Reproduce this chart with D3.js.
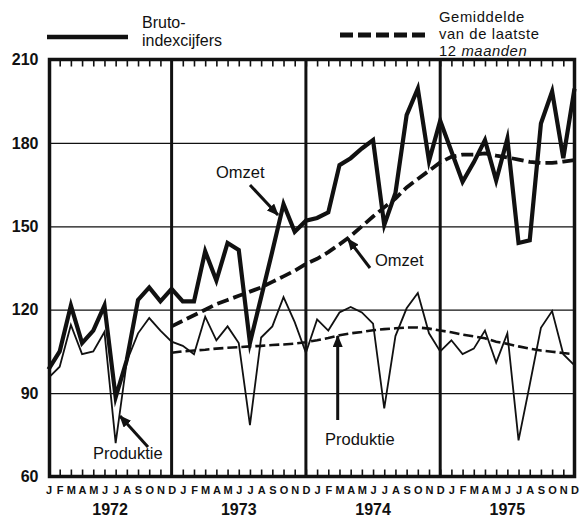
<!DOCTYPE html>
<html>
<head>
<meta charset="utf-8">
<script src="https://cdn.jsdelivr.net/npm/d3@7"></script>
<style>
  html, body { margin: 0; padding: 0; background: #fff; }
  svg { display: block; }
  text { font-family: "Liberation Sans", Arial, Helvetica, sans-serif; fill: #111; }
</style>
</head>
<body>
<svg id="chart" width="580" height="517"></svg>
<script>
// ---- data ----
const months = ["J","F","M","A","M","J","J","A","S","O","N","D"];
const years = ["1972","1973","1974","1975"];
const yTicks = [60, 90, 120, 150, 180, 210];
const gridValues = [90, 120, 150, 180];

// Omzet, bruto-indexcijfers, Jan 1972 - Dec 1975
const omzet = [
  98.5, 105, 121.5, 108, 112.5, 121.5, 88.5, 102, 123.5, 128, 123, 127.5,
  123, 123, 141, 130.5, 144, 141.5, 108, 124.5, 141, 158, 148, 152,
  153, 155, 172, 174.5, 178, 181, 150.5, 162, 190, 199.5, 173.5, 188,
  177, 166, 173, 181, 166.5, 181.5, 144, 145, 187, 198.5, 174.5, 199.5
];
// Produktie, bruto-indexcijfers
const produktie = [
  95.5, 99.5, 114.5, 104, 105, 112, 72, 101.5, 111.5, 117, 112.5, 108.5,
  107, 104, 117.5, 109, 114, 108, 78.5, 110, 114, 124.5, 115.5, 104.5,
  116.5, 112.5, 119, 121, 119, 115, 84.5, 110.5, 120.5, 126, 111.5, 105,
  109, 104, 106, 112.5, 101, 111.5, 73, 93, 113.5, 119.5, 104, 100
];
// Gemiddelde van de laatste 12 maanden (from Dec 1972)
const omzetAvg = [
  null, null, null, null, null, null, null, null, null, null, null, 114,
  116, 118, 120, 122, 123.5, 125, 126.5, 128, 130, 132, 134, 136.5,
  138.3, 140.7, 143.5, 146.5, 150, 153.5, 156.8, 160, 164, 167, 170, 173,
  175, 175.8, 175.8, 176.2, 175.4, 174.8, 174, 173.2, 172.8, 172.8, 173.3, 173.8
];
const produktieAvg = [
  null, null, null, null, null, null, null, null, null, null, null, 104.5,
  105, 105.3, 105.6, 106, 106.3, 106.5, 106.8, 107, 107.3, 107.5, 107.8, 108.3,
  109, 109.8, 110.8, 111.5, 112, 112.6, 113, 113.3, 113.6, 113.6, 113.2, 112.5,
  111.9, 111, 110.4, 109.7, 108.5, 107.7, 106.8, 106, 105.3, 104.9, 104.4, 104
];

// ---- layout ----
const svg = d3.select("#chart");
const idx = d3.range(48);
const x = d3.scaleLinear().domain([0, 47]).range([48.5, 574.5]);
const y = d3.scaleLinear().domain([60, 210]).range([476.5, 59.5]);
const pLeft = x(0), pRight = x(47), pTop = y(210), pBottom = y(60);

// gridlines
svg.append("g")
  .attr("transform", `translate(${pLeft},0)`)
  .call(d3.axisLeft(y).tickValues(gridValues).tickSize(-(pRight - pLeft)).tickFormat(""))
  .call(g => g.select(".domain").remove())
  .call(g => g.selectAll("line").attr("stroke", "#111").attr("stroke-width", 1.2));

// month ticks top & bottom (inward)
svg.append("g")
  .attr("transform", `translate(0,${pTop})`)
  .call(d3.axisTop(x).tickValues(idx).tickSize(-7).tickFormat(""))
  .call(g => g.select(".domain").remove())
  .call(g => g.selectAll("line").attr("stroke", "#111").attr("stroke-width", 1.6));
svg.append("g")
  .attr("transform", `translate(0,${pBottom})`)
  .call(d3.axisBottom(x).tickValues(idx).tickSize(-7).tickFormat(""))
  .call(g => g.select(".domain").remove())
  .call(g => g.selectAll("line").attr("stroke", "#111").attr("stroke-width", 1.6));

// year dividers
svg.append("g").selectAll("line")
  .data([11, 23, 35])
  .join("line")
  .attr("x1", d => x(d)).attr("x2", d => x(d))
  .attr("y1", pTop).attr("y2", pBottom)
  .attr("stroke", "#111").attr("stroke-width", 3);

// data lines
const line = d3.line()
  .defined(d => d != null)
  .x((d, i) => x(i))
  .y(d => y(d));

svg.append("path").datum(produktieAvg)
  .attr("d", line).attr("fill", "none")
  .attr("stroke", "#111").attr("stroke-width", 2.6)
  .attr("stroke-dasharray", "10,4");
svg.append("path").datum(omzetAvg)
  .attr("d", line).attr("fill", "none")
  .attr("stroke", "#111").attr("stroke-width", 3.8)
  .attr("stroke-dasharray", "12,5");
svg.append("path").datum(produktie)
  .attr("d", line).attr("fill", "none")
  .attr("stroke", "#111").attr("stroke-width", 1.8)
  .attr("stroke-linejoin", "miter").attr("stroke-miterlimit", 6);
svg.append("path").datum(omzet)
  .attr("d", line).attr("fill", "none")
  .attr("stroke", "#111").attr("stroke-width", 4.2)
  .attr("stroke-linejoin", "miter").attr("stroke-miterlimit", 6);

// frame
svg.append("rect")
  .attr("x", pLeft + 1).attr("y", pTop)
  .attr("width", pRight - pLeft - 1).attr("height", pBottom - pTop)
  .attr("fill", "none").attr("stroke", "#111").attr("stroke-width", 3.5);

// y axis labels
svg.append("g")
  .attr("transform", `translate(${pLeft - 1},0)`)
  .call(d3.axisLeft(y).tickValues(yTicks).tickSize(0).tickPadding(9))
  .call(g => g.select(".domain").remove())
  .call(g => g.selectAll("text")
    .attr("font-family", "'Liberation Sans', Arial, sans-serif")
    .attr("font-size", 16).attr("font-weight", "bold").attr("fill", "#111"));

// month labels
svg.append("g")
  .attr("transform", `translate(0,${pBottom})`)
  .call(d3.axisBottom(x).tickValues(idx).tickSize(0).tickPadding(10)
    .tickFormat(i => months[i % 12]))
  .call(g => g.select(".domain").remove())
  .call(g => g.selectAll("text")
    .attr("font-family", "'DejaVu Sans Condensed', 'DejaVu Sans', sans-serif")
    .attr("font-stretch", "condensed")
    .attr("font-size", 11).attr("font-weight", "bold").attr("fill", "#111"));

// year labels
const yearBounds = [[0, 11], [11, 23], [23, 35], [35, 47]];
svg.append("g").selectAll("text")
  .data(years)
  .join("text")
  .attr("x", (d, i) => (x(yearBounds[i][0]) + x(yearBounds[i][1])) / 2)
  .attr("y", 515)
  .attr("text-anchor", "middle")
  .attr("font-size", 16).attr("font-weight", "bold")
  .text(d => d);

// legend
svg.append("line")
  .attr("x1", 47).attr("x2", 128).attr("y1", 37).attr("y2", 37)
  .attr("stroke", "#111").attr("stroke-width", 4.5);
svg.append("text").attr("x", 142).attr("y", 28).attr("font-size", 16).text("Bruto-");
svg.append("text").attr("x", 142).attr("y", 46).attr("font-size", 16).text("indexcijfers");

svg.append("line")
  .attr("x1", 340).attr("x2", 426).attr("y1", 35).attr("y2", 35)
  .attr("stroke", "#111").attr("stroke-width", 5)
  .attr("stroke-dasharray", "13,5");
const legTexts = svg.append("g")
  .attr("font-size", 14.8).attr("letter-spacing", 0.6);
legTexts.append("text").attr("x", 439).attr("y", 21.5).text("Gemiddelde");
legTexts.append("text").attr("x", 439).attr("y", 38.5).text("van de laatste");
const t3 = legTexts.append("text").attr("x", 439).attr("y", 55.5);
t3.append("tspan").text("12 ");
t3.append("tspan").attr("font-style", "italic").text("maanden");

// annotations
const defs = svg.append("defs");
defs.append("marker")
  .attr("id", "arrow")
  .attr("viewBox", "0 0 12 10")
  .attr("refX", 11).attr("refY", 5)
  .attr("markerWidth", 12).attr("markerHeight", 10)
  .attr("markerUnits", "userSpaceOnUse")
  .attr("orient", "auto")
  .append("path").attr("d", "M0,0 L12,5 L0,10 Z").attr("fill", "#111");

const arrows = [
  [250, 185, 278, 215],
  [370, 268, 348, 239],
  [337.7, 420, 337.7, 336],
  [148, 447, 120, 416]
];
svg.append("g").selectAll("line")
  .data(arrows)
  .join("line")
  .attr("x1", d => d[0]).attr("y1", d => d[1])
  .attr("x2", d => d[2]).attr("y2", d => d[3])
  .attr("stroke", "#111").attr("stroke-width", 3)
  .attr("marker-end", "url(#arrow)");

const labels = [
  ["Omzet", 216, 178],
  ["Omzet", 375, 266],
  ["Produktie", 325, 445],
  ["Produktie", 93, 459]
];
svg.append("g").selectAll("text")
  .data(labels)
  .join("text")
  .attr("x", d => d[1]).attr("y", d => d[2])
  .attr("font-size", 16.5)
  .text(d => d[0]);
</script>
</body>
</html>
